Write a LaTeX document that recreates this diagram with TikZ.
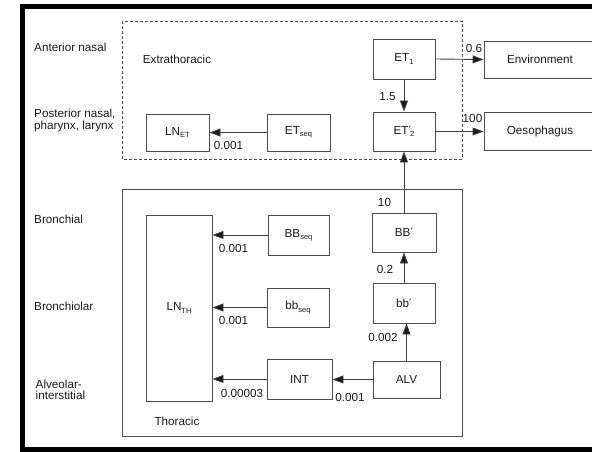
\documentclass[tikz,border=0pt]{standalone}
\usepackage{fontspec}
\setmainfont{Liberation Sans}
\newfontfamily\primefont{DejaVu Sans}
\usetikzlibrary{arrows.meta}
\newcommand\sbs[1]{\raisebox{-0.4ex}{\fontsize{7.5}{8}\selectfont #1}}
\newcommand\prm{{\primefont\fontsize{11.5}{12}\selectfont ′}}
\begin{document}
\begin{tikzpicture}[x=1pt,y=-1pt,
  every node/.style={font=\fontsize{11.7}{14}\selectfont, text=black!90},
  box/.style={draw=black!70, line width=0.9pt, inner sep=0pt},
  arr/.style={draw=black!75, line width=0.9pt, -{Triangle[length=11pt,width=8pt,fill=black!90]}},
  lbl/.style={inner sep=0pt},
  region/.style={draw=black!70, line width=0.9pt},
]
\useasboundingbox (0,0) rectangle (592,452);
\clip (0,0) rectangle (592,452);
\draw[line width=5pt] (22.5,7) rectangle (650,449.5);

% regions
\draw[region, dash pattern=on 3pt off 2pt] (122,21) rectangle (462,159);
\draw[region] (122,189) rectangle (462,436);
\node[lbl] (extra) at (177,59) {Extrathoracic};
\node[lbl] (thor) at (177,421) {Thoracic};

% left labels
\node[lbl, anchor=west] (ant) at (34,47) {Anterior nasal};
\node[lbl, anchor=west, align=left] (post) at (34,120.5) {Posterior nasal,\\[-2.5pt]pharynx, larynx};
\node[lbl, anchor=west] (bron) at (34,219) {Bronchial};
\node[lbl, anchor=west] (bronl) at (34,306) {Bronchiolar};
\node[lbl, anchor=west, align=left] (alv) at (35.5,390) {Alveolar-\\[-2.5pt]interstitial};

% boxes
\node[box, minimum width=62pt, minimum height=40pt] (ET1) at (404,59) {ET\sbs{1}};
\node[box, minimum width=62pt, minimum height=39pt] (ET2) at (404,131.5) {ET\prm\kern-1pt\sbs{2}};
\node[box, minimum width=112pt, minimum height=37pt] (env) at (540,59.5) {Environment};
\node[box, minimum width=112pt, minimum height=38pt] (oes) at (540,131) {Oesophagus};
\node[box, minimum width=63pt, minimum height=37pt] (LNET) at (177.5,132.5) {LN\sbs{ET}};
\node[box, minimum width=63pt, minimum height=37pt] (ETseq) at (298.5,132.5) {ET\sbs{seq}};
\node[box, minimum width=64pt, minimum height=39pt] (BB) at (404,232.5) {BB\prm};
\node[box, minimum width=61pt, minimum height=40pt] (BBseq) at (298.5,235) {BB\sbs{seq}};
\node[box, minimum width=62pt, minimum height=40pt] (bb) at (404,303) {bb\prm};
\node[box, minimum width=62pt, minimum height=39pt] (bbseq) at (298,307.5) {bb\sbs{seq}};
\node[box, minimum width=67pt, minimum height=37pt] (ALV) at (406.5,379.5) {ALV};
\node[box, minimum width=65pt, minimum height=40pt] (INT) at (299.5,379) {INT};
\node[box, minimum width=66pt, minimum height=186pt] (LNTH) at (179,308) {LN\sbs{TH}};

% arrows
\draw[arr] (ET1.east) -- (env.west);
\draw[arr] (ET1.south) -- (ET2.north);
\draw[arr] (ET2.east) -- (oes.west |- ET2.east);
\draw[arr] (ETseq.west) -- (LNET.east |- ETseq.west);
\draw[arr] (BB.north) -- (ET2.south);
\draw[arr] (BBseq.west) -- (LNTH.east |- BBseq.west);
\draw[arr] (bbseq.west) -- (LNTH.east |- bbseq.west);
\draw[arr] (INT.west) -- (LNTH.east |- INT.west);
\draw[arr] (ALV.west) -- (INT.east |- ALV.west);
\draw[arr] (ALV.north) -- (ALV.north |- bb.south);
\draw[arr] (bb.north) -- (BB.south);

% rate labels
\node[lbl] (r06) at (474,48) {0.6};
\node[lbl] (r100) at (472.5,118) {100};
\node[lbl] (r15) at (387.5,97) {1.5};
\node[lbl] (r10) at (384.5,202) {10};
\node[lbl] (r02) at (385,269) {0.2};
\node[lbl] (r0002) at (383,337) {0.002};
\node[lbl] (r0001a) at (350,397) {0.001};
\node[lbl] (r00003) at (242,393) {0.00003};
\node[lbl] (r0001b) at (233.5,320) {0.001};
\node[lbl] (r0001c) at (233.5,248) {0.001};
\node[lbl] (r0001d) at (228.5,145) {0.001};
\end{tikzpicture}
\end{document}
